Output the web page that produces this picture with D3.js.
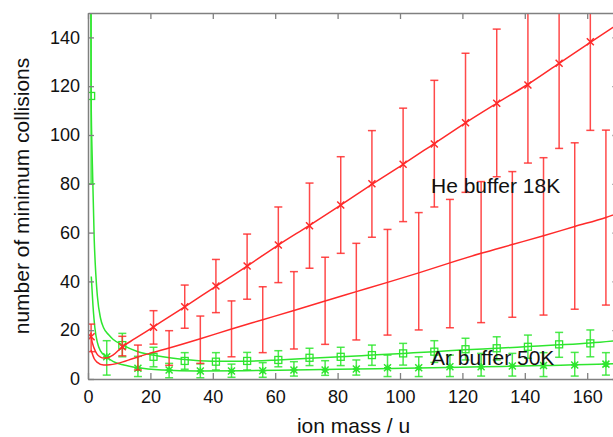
<!DOCTYPE html>
<html>
<head>
<meta charset="utf-8">
<script src="https://cdn.jsdelivr.net/npm/d3@7/dist/d3.min.js"></script>
<style>
  html, body { margin: 0; padding: 0; background: #ffffff; }
  svg { display: block; font-family: "Liberation Sans", Arial, Helvetica, sans-serif; }
</style>
</head>
<body>
<svg id="chart" width="613" height="437"></svg>
<script>
// ---- axis ticks ----
const xTicks = [0, 20, 40, 60, 80, 100, 120, 140, 160];
const yTicks = [0, 20, 40, 60, 80, 100, 120, 140];

// ---- sample masses ----
const massOdd  = [1, 11, 21, 31, 41, 51, 61, 71, 81, 91, 101, 111, 121, 131, 141, 151, 161];
const massEven = [6, 16, 26, 36, 46, 56, 66, 76, 86, 96, 106, 116, 126, 136, 146, 156, 166];

// He buffer 18K, upper set (cross markers) at massOdd
const heUpperVal = [17.3, 13.2, 21.2, 29.6, 38.1, 46.3, 54.9, 62.8, 71.3, 80.0, 88.0, 96.3, 105.0, 113.0, 120.5, 129.4, 138.2];
const heUpperLo  = [11.2,  9.5, 14.3, 20.8, 27.2, 32.7, 39.5, 45.4, 51.5, 58.1, 64.5, 70.5,  76.5,  82.9,  88.5,  94.5, 101.9];
const heUpperHi  = [22.5, 17.5, 28.0, 38.5, 49.0, 59.4, 70.5, 80.3, 91.1, 101.8, 111.0, 122.4, 133.5, 143.4, 152.5, 164.0, 174.5];

// He buffer 18K, lower set (error bars only) from 16 u on
const heLowerMass = [16, 26, 36, 46, 56, 66, 76, 86, 96, 106, 116, 126, 136, 146, 156, 166];
const heLowerVal  = [8.8, 12.7, 16.5, 20.5, 24.3, 28.1, 32.0, 35.8, 39.6, 44.0, 47.3, 52.0, 55.1, 58.5, 62.7, 66.0];
const heLowerLo   = [3.7,  5.6,  6.4,  9.1, 10.8, 12.3, 14.2, 16.0, 18.0, 20.1, 21.0, 23.1, 25.3, 26.2, 28.6, 30.3];
const heLowerHi   = [13.9, 19.8, 25.8, 32.0, 37.8, 44.0, 49.9, 55.6, 61.3, 68.2, 73.6, 80.9, 85.0, 90.7, 96.8, 102.0];

// Ar buffer 50K, upper set (square markers) at massOdd
const arUpperVal = [116.0, 13.9,  9.1,  7.4,  7.1,  7.4,  7.8,  8.7,  9.1,  9.8, 10.5, 11.2, 12.2, 12.6, 13.2, 14.2, 14.6];
const arUpperLo  = [ 80.0,  9.1,  5.0,  4.0,  3.7,  3.7,  5.0,  5.5,  5.5,  5.6,  5.7,  6.8,  7.8,  7.8,  8.5,  8.9,  9.1];
const arUpperHi  = [150.0, 18.7, 13.0, 10.8, 10.8, 10.9, 11.6, 12.6, 13.0, 13.9, 14.6, 15.7, 16.7, 17.3, 18.0, 19.1, 20.1];

// Ar buffer 50K, lower set (star markers) at massEven
const arLowerVal = [9.1, 4.4, 3.7, 3.3, 3.3, 3.4, 3.7, 3.7, 4.1, 4.6, 4.6,  5.0,  5.0,  5.3,  5.5,  5.7,  6.1];
const arLowerLo  = [1.6, 1.0, 0.5, 0.5, 0.7, 0.7, 1.2, 1.5, 1.6, 1.0, 1.0,  1.0,  1.2,  1.2,  1.0,  1.2,  1.6];
const arLowerHi  = [15.7, 9.3, 6.4, 6.2, 6.1, 6.7, 7.1, 7.5, 7.8, 9.8, 9.1, 9.8, 10.5, 10.5, 10.8, 10.9, 10.8];

// ---- model curves ----
const heFitUpperMass = [0.9, 1, 2, 3, 4, 5, 6, 8, 11, 15, 21, 31, 41, 51, 61, 71, 81, 91, 101, 111, 121, 131, 141, 151, 161, 170];
const heFitUpperVal  = [19, 17.5, 12.5, 10, 9, 8.6, 8.6, 9.8, 13.2, 16.5, 21.4, 29.6, 38, 46.3, 54.9, 63, 71.3, 79.8, 88, 96.5, 105, 113, 120.8, 129.4, 138, 145.6];

const heFitLowerMass = [1, 2, 3, 5, 7, 9.5, 14.7, 20, 26, 36, 46, 56, 66, 76, 86, 96, 106, 116, 126, 136, 146, 156, 166, 170];
const heFitLowerVal  = [11.9, 8.3, 6.8, 5.7, 5.8, 6.4, 8.5, 10.6, 12.7, 16.5, 20.5, 24.3, 28.1, 32, 35.8, 39.6, 43.5, 47.6, 51.5, 55.1, 58.7, 62.5, 66.2, 68];

const arFitUpperMass = [0.9, 1, 1.4, 2, 2.5, 3, 4, 5, 6.7, 8, 11, 15.8, 21, 24, 30, 40, 50, 61, 71, 81, 91, 101, 111, 121, 131, 141, 151, 161, 170];
const arFitUpperVal  = [165, 116, 88, 57, 43, 34, 25, 21, 18, 16.3, 14, 11.3, 9.8, 9.1, 8.1, 7.3, 7.3, 7.8, 8.5, 9.1, 9.8, 10.5, 11.2, 12, 12.6, 13.3, 14, 14.8, 15.8];

const arFitLowerMass = [1.05, 1.6, 2.2, 3, 4, 6, 8, 11.5, 16, 24, 35, 50, 66, 86, 106, 126, 146, 166, 170];
const arFitLowerVal  = [42, 30, 21, 15, 11.5, 9, 7.2, 5.7, 4.6, 3.7, 3.3, 3.4, 3.7, 4.1, 4.5, 5, 5.5, 6.1, 6.3];

// ---- labels ----
const xLabel = "ion mass / u";
const yLabel = "number of minimum collisions";
const heLabel = "He buffer 18K";
const arLabel = "Ar buffer 50K";

// ---- layout ----
const RED = "#ff2a2a";
const GREEN = "#2ee62e";
const AXIS = "#808080";
const plotLeft = 88, plotTop = 13, plotBottom = 379, plotRight = 618.4;

const svg = d3.select("#chart");
const x = d3.scaleLinear().domain([0, 170]).range([plotLeft, plotRight]);
const y = d3.scaleLinear().domain([0, 150]).range([plotBottom, plotTop]);

svg.append("defs").append("clipPath").attr("id", "plotClip")
  .append("rect").attr("x", plotLeft).attr("y", plotTop)
  .attr("width", plotRight - plotLeft).attr("height", plotBottom - plotTop);

const plot = svg.append("g").attr("clip-path", "url(#plotClip)");

const zip = (ms, vs) => ms.map((m, i) => [m, vs[i]]);
const line = d3.line().x(d => x(d[0])).y(d => y(d[1])).curve(d3.curveMonotoneX);

function drawCurve(ms, vs, color) {
  plot.append("path").datum(zip(ms, vs))
    .attr("d", line).attr("fill", "none")
    .attr("stroke", color).attr("stroke-width", 1.5);
}

function drawErrorBars(ms, lo, hi, color) {
  const g = plot.append("g").attr("stroke", color).attr("stroke-width", 1.5)
    .attr("stroke-opacity", 0.85);
  const clampV = v => Math.max(0, Math.min(150, v));
  ms.forEach((m, i) => {
    const cx = x(m);
    g.append("line").attr("x1", cx).attr("x2", cx).attr("y1", y(lo[i])).attr("y2", y(hi[i]));
    [lo[i], hi[i]].forEach(v => {
      const cy = y(clampV(v));
      g.append("line").attr("x1", cx - 4).attr("x2", cx + 4).attr("y1", cy).attr("y2", cy);
    });
  });
}

function drawCross(ms, vs, color) {
  const g = plot.append("g").attr("stroke", color).attr("stroke-width", 1.5);
  ms.forEach((m, i) => {
    const cx = x(m), cy = y(vs[i]), s = 3.5;
    g.append("path").attr("d", `M${cx - s},${cy - s}L${cx + s},${cy + s}M${cx - s},${cy + s}L${cx + s},${cy - s}`);
  });
}

function drawSquare(ms, vs, color) {
  const g = plot.append("g").attr("stroke", color).attr("stroke-width", 1.3).attr("fill", "none");
  ms.forEach((m, i) => {
    const cx = x(m), cy = y(vs[i]), s = 3.5;
    g.append("rect").attr("x", cx - s).attr("y", cy - s).attr("width", 2 * s).attr("height", 2 * s);
  });
}

function drawStar(ms, vs, color) {
  const g = plot.append("g").attr("stroke", color).attr("stroke-width", 1.5);
  ms.forEach((m, i) => {
    const cx = x(m), cy = y(vs[i]), s = 3.5;
    g.append("path").attr("d",
      `M${cx - s},${cy - s}L${cx + s},${cy + s}M${cx - s},${cy + s}L${cx + s},${cy - s}` +
      `M${cx - s},${cy}L${cx + s},${cy}M${cx},${cy - s}L${cx},${cy + s}`);
  });
}

// Ar buffer 50K
drawErrorBars(massOdd, arUpperLo, arUpperHi, GREEN);
drawErrorBars(massEven, arLowerLo, arLowerHi, GREEN);
drawCurve(arFitUpperMass, arFitUpperVal, GREEN);
drawCurve(arFitLowerMass, arFitLowerVal, GREEN);
drawSquare(massOdd, arUpperVal, GREEN);
drawStar(massEven, arLowerVal, GREEN);

// He buffer 18K
drawErrorBars(massOdd, heUpperLo, heUpperHi, RED);
drawErrorBars(heLowerMass, heLowerLo, heLowerHi, RED);
drawCurve(heFitUpperMass, heFitUpperVal, RED);
drawCurve(heFitLowerMass, heFitLowerVal, RED);
drawCross(massOdd, heUpperVal, RED);

// ---- border and axes ----
const fontSize = 18;
function styleAxis(g) {
  g.selectAll(".domain").attr("stroke", AXIS).attr("stroke-width", 1.5);
  g.selectAll(".tick line").attr("stroke", AXIS).attr("stroke-width", 1.3);
  g.selectAll(".tick text").attr("fill", "#111").attr("font-size", fontSize)
    .attr("font-family", "Liberation Sans, Arial, sans-serif");
}

svg.append("g").attr("transform", `translate(0,${plotBottom})`)
  .call(d3.axisBottom(x).tickValues(xTicks).tickSizeInner(-6).tickSizeOuter(0).tickPadding(11))
  .call(styleAxis);
svg.append("g").attr("transform", `translate(0,${plotTop})`)
  .call(d3.axisTop(x).tickValues(xTicks).tickSizeInner(-6).tickSizeOuter(0).tickFormat(""))
  .call(styleAxis);
svg.append("g").attr("transform", `translate(${plotLeft},0)`)
  .call(d3.axisLeft(y).tickValues(yTicks).tickSizeInner(-6).tickSizeOuter(0).tickPadding(8))
  .call(styleAxis);
svg.append("g").attr("transform", `translate(${plotRight},0)`)
  .call(d3.axisRight(y).tickValues(yTicks).tickSizeInner(-6).tickSizeOuter(0).tickFormat(""))
  .call(styleAxis);

// ---- titles and annotations ----
svg.append("text").attr("x", (plotLeft + 613) / 2 + 3).attr("y", 433)
  .attr("text-anchor", "middle").attr("font-size", 21).attr("fill", "#111").text(xLabel);
svg.append("text").attr("transform", `translate(29,196) rotate(-90)`)
  .attr("text-anchor", "middle").attr("font-size", 21).attr("fill", "#111").text(yLabel);
svg.append("text").attr("x", 431).attr("y", 193)
  .attr("font-size", 21).attr("fill", "#111").text(heLabel);
svg.append("text").attr("x", 431).attr("y", 365)
  .attr("font-size", 21).attr("fill", "#111").text(arLabel);
</script>
</body>
</html>
